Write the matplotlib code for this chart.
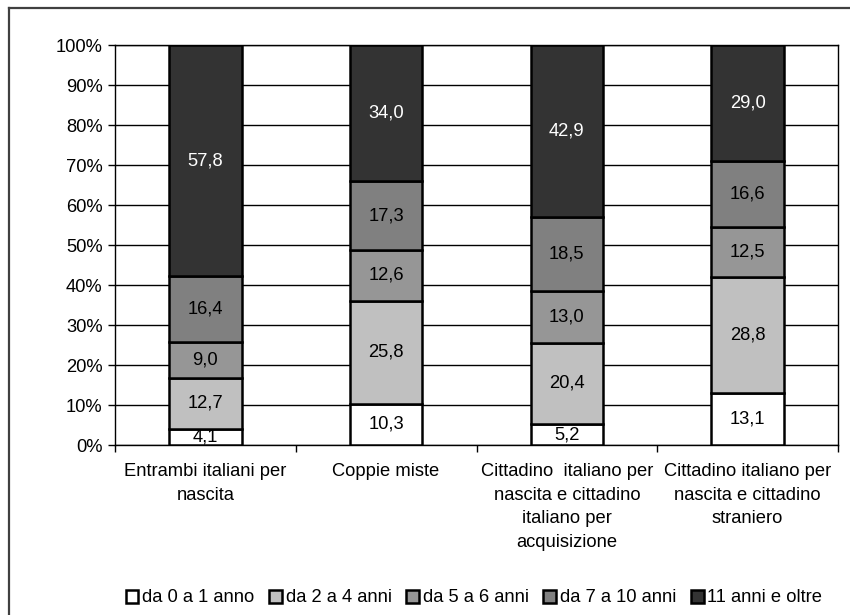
import numpy as np
import matplotlib.pyplot as plt
from matplotlib.patches import Patch
from matplotlib.lines import Line2D

plt.rcParams['font.family'] = ['Liberation Sans', 'DejaVu Sans']

categories = ['Entrambi italiani per\nnascita',
              'Coppie miste',
              'Cittadino  italiano per\nnascita e cittadino\nitaliano per\nacquisizione',
              'Cittadino italiano per\nnascita e cittadino\nstraniero']
series = ['da 0 a 1 anno', 'da 2 a 4 anni', 'da 5 a 6 anni', 'da 7 a 10 anni', '11 anni e oltre']
da_0_1 = [4.1, 10.3, 5.2, 13.1]
da_2_4 = [12.7, 25.8, 20.4, 28.8]
da_5_6 = [9.0, 12.6, 13.0, 12.5]
da_7_10 = [16.4, 17.3, 18.5, 16.6]
oltre_11 = [57.8, 34.0, 42.9, 29.0]
yticks = [0, 10, 20, 30, 40, 50, 60, 70, 80, 90, 100]

values = [da_0_1, da_2_4, da_5_6, da_7_10, oltre_11]
colors = ['#ffffff', '#c0c0c0', '#969696', '#808080', '#333333']
txt_colors = ['#000000', '#000000', '#000000', '#000000', '#ffffff']
fs = 13.2

fig = plt.figure(figsize=(8.5, 6.15), dpi=100)
ax = fig.add_axes([115/850, 1-445/615, (838-115)/850, 400/615])

x = np.arange(len(categories))
bottom = np.zeros(len(categories))
for vals, col, tc in zip(values, colors, txt_colors):
    vals = np.array(vals)
    ax.bar(x, vals, 0.4, bottom=bottom, color=col, edgecolor='black', linewidth=1.8, zorder=3)
    for xi, b, v in zip(x, bottom, vals):
        ax.text(xi, b + v/2, f'{v:.1f}'.replace('.', ','), ha='center', va='center',
                fontsize=fs, color=tc, zorder=4)
    bottom += vals

ax.set_xlim(-0.5, len(categories) - 0.5)
ax.set_ylim(0, 100)
ax.set_yticks(yticks)
ax.set_yticklabels([f'{t}%' for t in yticks], fontsize=fs)
ax.yaxis.grid(True, color='black', linewidth=1, zorder=0)
ax.set_axisbelow(True)
ax.tick_params(axis='y', length=5, width=1, pad=4)

ax.set_xticks(x)
ax.set_xticklabels(categories, fontsize=fs, va='top', linespacing=1.5)
ax.tick_params(axis='x', which='major', length=0, pad=13)
ax.set_xticks(np.arange(-0.5, len(categories)), minor=True)
ax.tick_params(axis='x', which='minor', length=5, width=1)

for s in ax.spines.values():
    s.set_color('black')
    s.set_linewidth(1)

handles = [Patch(facecolor=c, edgecolor='black', linewidth=1.8) for c in colors]
fig.legend(handles, series, loc='center', bbox_to_anchor=(474/850, 1-598/615),
           ncol=5, frameon=False, fontsize=fs, handlelength=0.7, handleheight=0.7,
           handletextpad=0.2, columnspacing=0.8)

# outer frame (left and top only visible)
fig.add_artist(Line2D([9/850, 9/850], [0, 1-8/615], color='#404040', linewidth=1.6))
fig.add_artist(Line2D([9/850, 1], [1-8/615, 1-8/615], color='#404040', linewidth=1.6))

fig.savefig('out.png', dpi=100)
